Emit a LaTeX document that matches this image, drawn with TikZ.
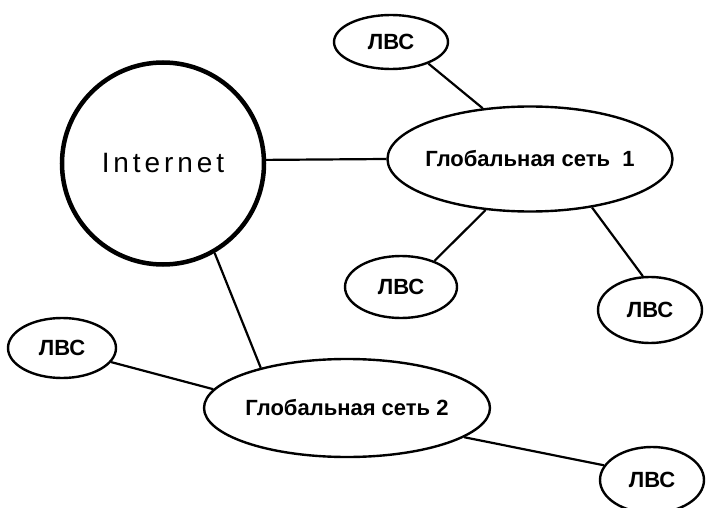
\documentclass[tikz,border=0pt]{standalone}
\usepackage{fontspec}
\setmainfont{Liberation Sans}
\newfontfamily\inetfont[LetterSpace=14]{Liberation Sans}
\usetikzlibrary{shapes.geometric}
\newcommand\lbl[1]{\makebox[0pt]{#1}}
\tikzset{
  net/.style={ellipse, draw, line width=2.4pt, inner sep=0pt, font=\bfseries\fontsize{22}{26}\selectfont},
  link/.style={line width=2.2pt},
}
\begin{document}
\begin{tikzpicture}[x=1pt,y=-1pt]
\useasboundingbox (0,0) rectangle (707,508);
\node[circle, draw, line width=4.5pt, minimum size=202pt, inner sep=0pt,
      font=\inetfont\fontsize{28}{32}\selectfont] (inet) at (163,163.5) {Internet};
\node[net, minimum width=285pt, minimum height=105pt] (g1) at (530,159) {\lbl{Глобальная сеть~~1}};
\node[net, minimum width=286pt, minimum height=98pt] (g2) at (347,408) {\lbl{Глобальная сеть 2}};
\node[net, minimum width=114pt, minimum height=54pt] (l1) at (391,42) {\lbl{ЛВС}};
\node[net, minimum width=112pt, minimum height=62pt] (l2) at (401,287) {\lbl{ЛВС}};
\node[net, minimum width=104pt, minimum height=66pt] (l3) at (650,310) {\lbl{ЛВС}};
\node[net, minimum width=108pt, minimum height=60pt] (l4) at (62,348) {\lbl{ЛВС}};
\node[net, minimum width=104pt, minimum height=66pt] (l5) at (652,480) {\lbl{ЛВС}};
\draw[link] (inet.2) -- (g1.west);
\draw[link] (l1.-30) -- (g1.133);
\draw[link] (g1.229) -- (l2.38);
\draw[link] (g1.-38) -- (l3.102);
\draw[link] (inet.-60) -- (g2.155);
\draw[link] (l4.-16) -- (g2.172);
\draw[link] (g2.-14) -- (l5.163);
\end{tikzpicture}
\end{document}
